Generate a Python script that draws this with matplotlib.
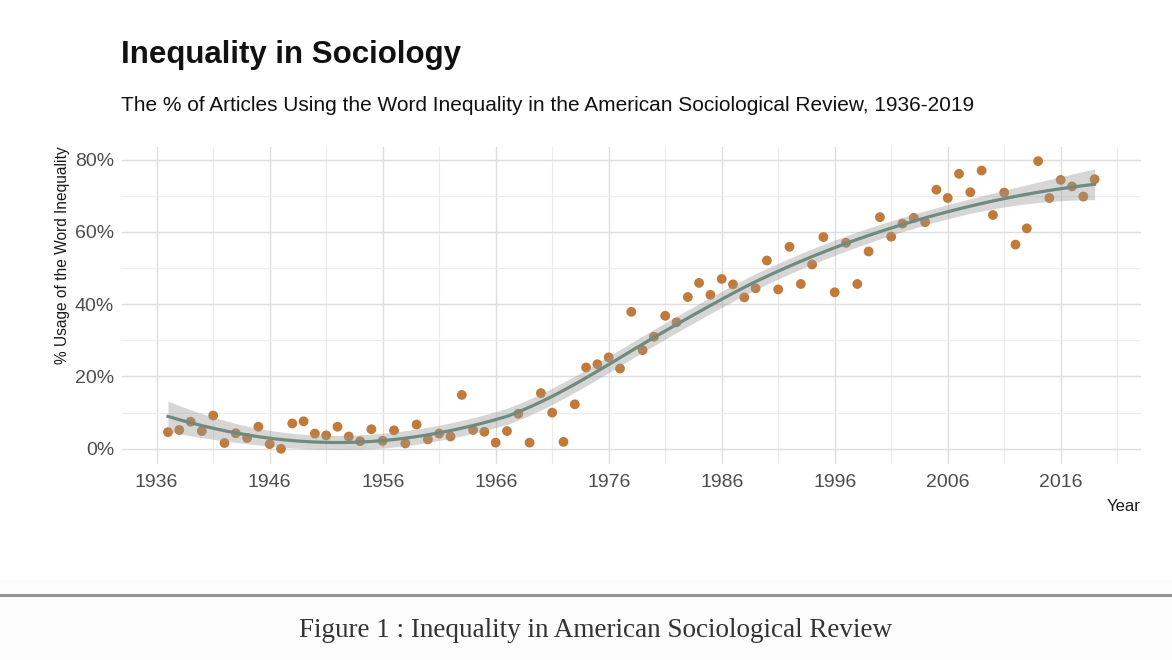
import matplotlib
matplotlib.use("Agg")
import matplotlib.pyplot as plt
import numpy as np

# share of ASR articles using the word "inequality"
years = np.arange(1937, 2020)
pct = [
    4.6, 5.2, 7.5, 4.9, 9.2, 1.6, 4.3, 3.0, 6.1, 1.3,          # 1937-1946
    0.0, 7.0, 7.6, 4.2, 3.7, 6.1, 3.4, 2.1, 5.4, 2.2,          # 1947-1956
    5.1, 1.5, 6.7, 2.6, 4.2, 3.4, 14.9, 5.2, 4.7, 1.7,         # 1957-1966
    4.9, 9.7, 1.7, 15.4, 10.0, 1.9, 12.3, 22.5, 23.4, 25.3,    # 1967-1976
    22.2, 37.9, 27.3, 31.0, 36.8, 35.0, 42.0, 45.9, 42.6, 47.0,  # 1977-1986
    45.5, 41.9, 44.4, 52.1, 44.1, 55.9, 45.6, 51.0, 58.6, 43.3,  # 1987-1996
    57.0, 45.6, 54.6, 64.1, 58.7, 62.3, 63.9, 62.7, 71.7, 69.4,  # 1997-2006
    76.1, 71.0, 77.0, 64.7, 70.9, 56.5, 61.0, 79.6, 69.4, 74.4,  # 2007-2016
    72.6, 69.8, 74.6,                                            # 2017-2019
]
x_breaks = [1936, 1946, 1956, 1966, 1976, 1986, 1996, 2006, 2016]
y_breaks = [0, 20, 40, 60, 80]

SANS = ["Liberation Sans", "DejaVu Sans"]
SERIF = ["Liberation Serif", "DejaVu Serif"]


def loess_rows(x, x_new, span=0.75):
    # local quadratic fit with tricube weights (like R's loess default)
    n = len(x)
    q = int(np.floor(n * span))
    rows = []
    for x0 in x_new:
        d = np.abs(x - x0)
        h = np.sort(d)[q - 1]
        w = np.clip(1 - (d / h) ** 3, 0, None) ** 3
        X = np.column_stack([np.ones(n), x - x0, (x - x0) ** 2])
        XtW = X.T * w
        rows.append(np.linalg.solve(XtW @ X, XtW)[0])
    return np.array(rows)


x = years.astype(float)
y = np.array(pct)
L = loess_rows(x, x)
resid = y - L @ y
M = np.eye(len(x)) - L
delta1 = np.trace(M.T @ M)
sigma = np.sqrt(resid @ resid / delta1)
grid = np.linspace(x.min(), x.max(), 80)
Lg = loess_rows(x, grid)
fit = Lg @ y
se = sigma * np.sqrt((Lg ** 2).sum(axis=1))
lo, hi = fit - 1.99 * se, fit + 1.99 * se

fig = plt.figure(figsize=(11.72, 6.6), dpi=100)
ax = fig.add_axes([0.1038, 0.2970, 0.8697, 0.4807])

ax.scatter(x, y, s=50, color="#c27a3a", edgecolor="none", zorder=2)
ax.fill_between(grid, lo, hi, color="#999999", alpha=0.4, lw=0, zorder=3)
ax.plot(grid, fit, color="#6f8b7f", lw=2.3, zorder=4)

xr = x.max() - x.min()
ax.set_xlim(x.min() - 0.05 * xr, x.max() + 0.05 * xr)
ymin, ymax = min(y.min(), lo.min()), max(y.max(), hi.max())
yr = ymax - ymin
ax.set_ylim(ymin - 0.05 * yr, ymax + 0.05 * yr)

ax.set_xticks(x_breaks)
ax.set_xticks([b + 5 for b in x_breaks], minor=True)
ax.set_yticks(y_breaks)
ax.set_yticks([b + 10 for b in y_breaks[:-1]], minor=True)
ax.set_xticklabels([str(b) for b in x_breaks], family=SANS, fontsize=14, color="#4d4d4d")
ax.set_yticklabels([f"{b}%" for b in y_breaks], family=SANS, fontsize=14, color="#4d4d4d")
ax.tick_params(which="both", length=0)
ax.tick_params(axis="x", pad=7.5)
ax.tick_params(axis="y", pad=5.5)
ax.grid(True, which="major", color="#dedede", lw=1.0)
ax.grid(True, which="minor", color="#ececec", lw=0.8)
ax.set_axisbelow(True)
for s in ax.spines.values():
    s.set_visible(False)

ax.text(-0.058, 1.0, "% Usage of the Word Inequality", transform=ax.transAxes,
        rotation=90, ha="center", va="top", family=SANS, fontsize=11.2, color="#1a1a1a")
fig.text(0.9735, 0.232, "Year", ha="right", va="center", family=SANS, fontsize=12, color="#1a1a1a")

fig.text(0.1032, 0.905, "Inequality in Sociology", ha="left", va="baseline",
         family=SANS, fontsize=22.5, fontweight="bold", color="#111111")
fig.text(0.1032, 0.8323,
         "The % of Articles Using the Word Inequality in the American Sociological Review, 1936-2019",
         ha="left", va="baseline", family=SANS, fontsize=15, color="#111111")

# caption strip under the chart
fig.patches.append(plt.Rectangle((0, 0), 1, 1 - 580 / 660, transform=fig.transFigure,
                                 color="#fcfcfc", zorder=0))
fig.add_artist(plt.Line2D([0, 1], [1 - 594.5 / 660] * 2, transform=fig.transFigure,
                          color="#949494", lw=2.2))
fig.text(0.5085, 0.044, "Figure 1 : Inequality in American Sociological Review",
         ha="center", va="center", family=SERIF, fontsize=19.5, color="#333333")

fig.savefig("out.png", dpi=100)
